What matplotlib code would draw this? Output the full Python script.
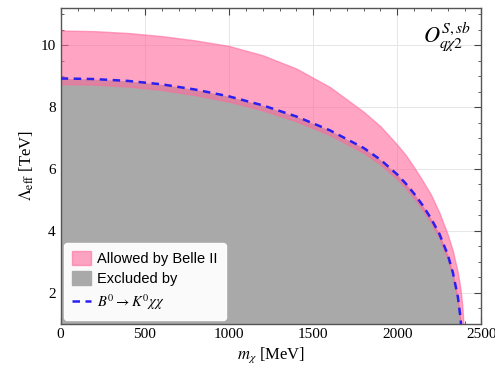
import matplotlib.pyplot as plt
from matplotlib.patches import Patch
from matplotlib.lines import Line2D
import numpy as np

plt.rcParams['font.family'] = 'Liberation Serif'
plt.rcParams['mathtext.fontset'] = 'stix'

# dark matter mass grid [MeV]
m_chi = [0, 200, 400, 600, 800, 1000, 1200, 1400, 1600, 1800, 1900, 2000,
         2050, 2100, 2150, 2200, 2250, 2300, 2330, 2360, 2375, 2385, 2390, 2398]

# upper edge of the Belle II allowed band [TeV]
allowed_hi = [10.48, 10.46, 10.40, 10.30, 10.16, 9.98, 9.68, 9.25, 8.65, 7.85,
              7.38, 6.78, 6.45, 6.05, 5.62, 5.17, 4.58, 3.87, 3.34, 2.63,
              2.12, 1.62, 1.24, 0.5]
# lower edge of the allowed band
allowed_lo = [8.75, 8.73, 8.67, 8.56, 8.39, 8.18, 7.9, 7.54, 7.1, 6.52,
              6.14, 5.67, 5.38, 5.05, 4.68, 4.26, 3.76, 3.08, 2.52, 1.72,
              1.08, 0.3, 0.0, 0.0]
# B0 -> K0 chi chi exclusion boundary
excluded = [8.93, 8.91, 8.85, 8.74, 8.57, 8.35, 8.06, 7.7, 7.25, 6.68,
            6.3, 5.82, 5.53, 5.2, 4.83, 4.4, 3.9, 3.22, 2.65, 1.85,
            1.2, 0.5, 0.0, 0.0]

pink = '#ff6a9c'
gray = '#a9a9a9'
blue = '#2a1ff0'

fig = plt.figure(figsize=(4.95, 3.75), dpi=100)
ax = fig.add_axes([0.1226, 0.1373, 0.8501, 0.8406])

ax.fill_between(m_chi, 0, excluded, color=gray, lw=0, zorder=1)
ax.fill_between(m_chi, allowed_lo, allowed_hi, facecolor=pink, alpha=0.6,
                edgecolor=pink, lw=1.0, zorder=2)
ax.plot(m_chi, excluded, color=blue, ls=(0, (3, 2.2)), lw=1.8, zorder=3)

ax.set_xlim(0, 2500)
ax.set_ylim(1, 11.2)
ax.set_xticks(np.arange(0, 2501, 500))
ax.set_xticks(np.arange(0, 2501, 100), minor=True)
ax.set_yticks([2, 4, 6, 8, 10])
ax.set_yticks(np.arange(1, 11.21, 0.5), minor=True)
ax.grid(True, which='major', color='#e6e6e6', lw=0.7, zorder=0)
ax.set_axisbelow(True)
ax.tick_params(which='both', direction='in', top=True, right=True,
               color='#444444', labelsize=11)
ax.tick_params(which='major', length=5, width=0.8)
ax.tick_params(which='minor', length=2.5, width=0.6)
for s in ax.spines.values():
    s.set_color('#555555')
    s.set_linewidth(1.0)

ax.set_xlabel(r'$m_\chi$ [MeV]', fontsize=12, labelpad=3)
ax.set_ylabel(r'$\Lambda_{\rm eff}$ [TeV]', fontsize=12, labelpad=3)

ax.text(0.975, 0.96, r'$O^{S,sb}_{q\chi 2}$', transform=ax.transAxes,
        ha='right', va='top', fontsize=16)

handles = [Patch(facecolor=pink, alpha=0.6, edgecolor=pink),
           Patch(facecolor=gray, edgecolor=gray),
           Line2D([], [], color=blue, ls=(0, (3, 2.2)), lw=1.8)]
labels = ['Allowed by Belle II', 'Excluded by', r'$B^0 \rightarrow K^0\chi\chi$']
leg = ax.legend(handles, labels, loc='lower left', borderaxespad=0.25,
                prop={'family': 'Liberation Sans', 'size': 10.5},
                frameon=True, fancybox=True, framealpha=0.95,
                edgecolor='white', handlelength=1.3, handleheight=1.1,
                handletextpad=0.4, borderpad=0.55, labelspacing=0.4)

fig.savefig('out.png', dpi=100)
